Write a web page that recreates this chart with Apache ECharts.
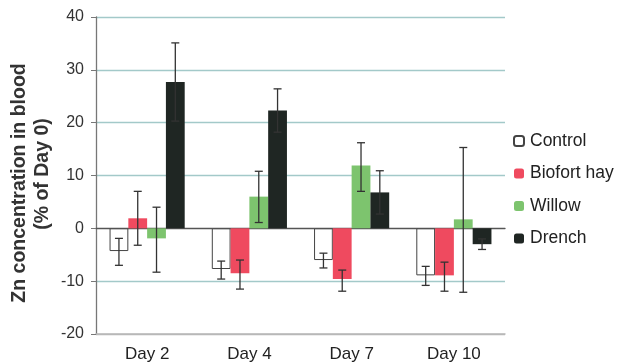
<!DOCTYPE html>
<html>
<head>
<meta charset="utf-8">
<script src="https://cdn.jsdelivr.net/npm/echarts@6/dist/echarts.min.js"></script>
<style>html,body{margin:0;padding:0;background:#fff;}#c{width:619px;height:364px;}</style>
</head>
<body>
<div id="c"></div>
<script>
const categories = ['Day 2', 'Day 4', 'Day 7', 'Day 10'];
const yTicks = [-20, -10, 0, 10, 20, 30, 40];
const seriesNames = ['Control', 'Biofort hay', 'Willow', 'Drench'];
const yTitleLines = ['Zn concentration in blood', '(% of Day 0)'];

const control = [-4.3, -7.7, -6.0, -8.9];
const biofort = [1.9, -8.5, -9.6, -8.9];
const willow = [-1.9, 6.0, 11.9, 1.7];
const drench = [27.7, 22.3, 6.8, -3.0];

const controlErrLow = [-7.0, -9.6, -7.5, -10.8];
const controlErrHigh = [-1.9, -6.2, -4.7, -7.2];
const biofortErrLow = [-3.2, -11.5, -11.9, -11.9];
const biofortErrHigh = [7.0, -6.0, -7.9, -6.4];
const willowErrLow = [-8.3, 1.1, 7.0, -12.1];
const willowErrHigh = [4.0, 10.8, 16.2, 15.3];
const drenchErrLow = [20.3, 18.2, 2.7, -4.0];
const drenchErrHigh = [35.1, 26.4, 10.9, -2.0];

const values = [control, biofort, willow, drench];
const errLow = [controlErrLow, biofortErrLow, willowErrLow, drenchErrLow];
const errHigh = [controlErrHigh, biofortErrHigh, willowErrHigh, drenchErrHigh];

const colors = ['#ffffff', '#ef4a5f', '#7dc46e', '#1f2623'];
const CAT_GAP = 0.265;
const FONT = '"Liberation Sans", Arial, sans-serif';

const chart = echarts.init(document.getElementById('c'), null, {renderer: 'canvas'});

const barSeries = seriesNames.map((name, i) => ({
  name: name,
  type: 'bar',
  xAxisIndex: 0,
  data: values[i],
  barGap: '0%',
  barCategoryGap: (CAT_GAP * 100) + '%',
  itemStyle: i === 0
    ? {color: colors[i], borderColor: '#444', borderWidth: 1}
    : {color: colors[i]},
  emphasis: {disabled: true},
  z: 2
}));

const errSeries = seriesNames.map((name, i) => ({
  name: 'err-' + i,
  type: 'custom',
  xAxisIndex: 0,
  data: categories.map((c, k) => [k, errLow[i][k], errHigh[i][k]]),
  encode: {x: 0, y: [1, 2]},
  z: 5,
  silent: true,
  renderItem: function (params, api) {
    const k = api.value(0);
    const lo = api.coord([k, api.value(1)]);
    const hi = api.coord([k, api.value(2)]);
    const catW = api.size([1, 0])[0];
    const bw = catW * (1 - CAT_GAP) / 4;
    const x = lo[0] + (i - 1.5) * bw;
    const cap = 4;
    const style = {stroke: '#333', lineWidth: 1.3, fill: null};
    return {
      type: 'group',
      children: [
        {type: 'line', shape: {x1: x, y1: lo[1], x2: x, y2: hi[1]}, style: style},
        {type: 'line', shape: {x1: x - cap, y1: lo[1], x2: x + cap, y2: lo[1]}, style: style},
        {type: 'line', shape: {x1: x - cap, y1: hi[1], x2: x + cap, y2: hi[1]}, style: style}
      ]
    };
  }
}));

const option = {
  animation: false,
  backgroundColor: '#ffffff',
  textStyle: {fontFamily: FONT},
  grid: {left: 96, right: 114, top: 17, bottom: 30, containLabel: false, outerBoundsMode: 'none'},
  legend: {
    orient: 'vertical',
    left: 508,
    top: 127,
    itemWidth: 10,
    itemHeight: 10,
    itemGap: 14.5,
    data: seriesNames,
    textStyle: {fontSize: 17.5, color: '#222', fontFamily: FONT, padding: [0, 0, 0, 1]},
    selectedMode: false
  },
  graphic: [
    {
      type: 'text', x: 20, y: 183, rotation: Math.PI / 2,
      style: {text: yTitleLines[0], fontSize: 19.5, fontWeight: 'bold', fill: '#333',
              fontFamily: FONT, align: 'center', verticalAlign: 'middle'}
    },
    {
      type: 'text', x: 43, y: 174, rotation: Math.PI / 2,
      style: {text: yTitleLines[1], fontSize: 19.5, fontWeight: 'bold', fill: '#333',
              fontFamily: FONT, align: 'center', verticalAlign: 'middle'}
    }
  ],
  xAxis: [
    {
      type: 'category',
      data: categories,
      position: 'bottom',
      axisLine: {onZero: false, lineStyle: {color: '#b8b8b8', width: 1.5}},
      axisTick: {show: false},
      axisLabel: {fontSize: 17, color: '#222', margin: 12, fontFamily: FONT},
      splitLine: {show: false}
    },
    {
      type: 'category',
      data: categories,
      position: 'top',
      axisLine: {onZero: true, lineStyle: {color: '#555', width: 1.3}},
      axisTick: {show: false},
      axisLabel: {show: false},
      splitLine: {show: false}
    }
  ],
  yAxis: {
    type: 'value',
    min: yTicks[0],
    max: yTicks[yTicks.length - 1],
    interval: 10,
    axisLine: {show: true, lineStyle: {color: '#777', width: 1.3}},
    axisTick: {show: true, length: 5, lineStyle: {color: '#777'}},
    axisLabel: {fontSize: 16, color: '#333', margin: 12, fontFamily: FONT},
    splitLine: {show: true, lineStyle: {color: ['#b8b8b8', '#a3c9c9', 'transparent', '#a3c9c9', '#a3c9c9', '#a3c9c9', '#a3c9c9'], width: 1.3}}
  },
  series: barSeries.concat(errSeries)
};

chart.setOption(option);
</script>
</body>
</html>
